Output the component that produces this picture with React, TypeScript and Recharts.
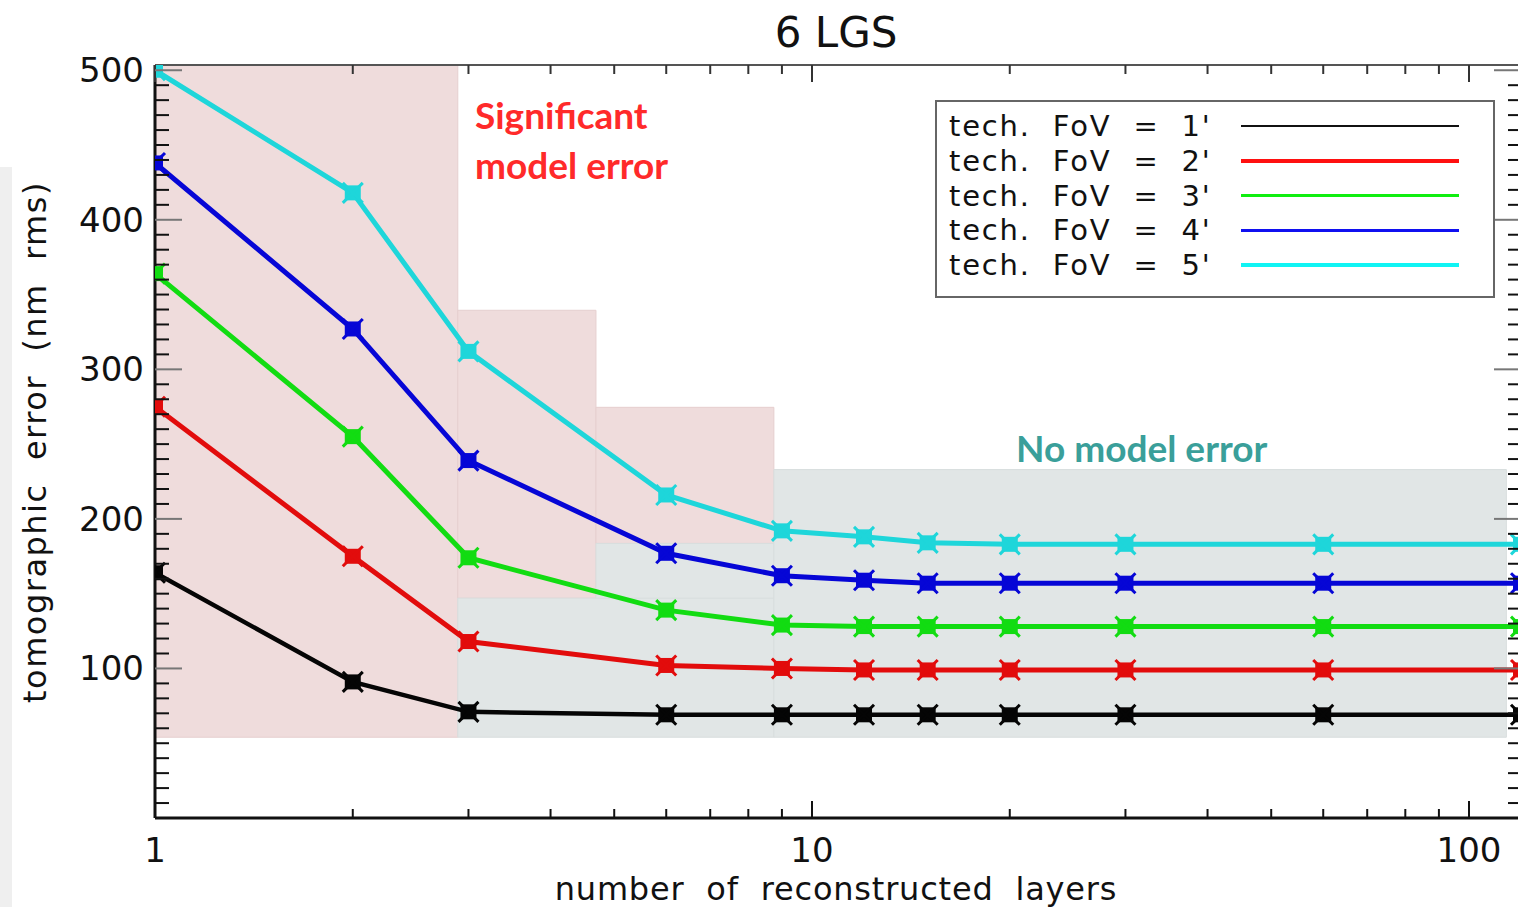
import React from 'react';
import { LineChart, Line, XAxis, YAxis, ReferenceArea } from 'recharts';

// number of reconstructed layers
const layers = [1, 2, 3, 6, 9, 12, 15, 20, 30, 60, 120];

// tomographic error (nm rms) per technical FoV
const fov1 = [164, 91, 71, 69, 69, 69, 69, 69, 69, 69, 69];
const fov2 = [275, 175, 118, 102, 100, 99, 99, 99, 99, 99, 99];
const fov3 = [364, 255, 174, 139, 129, 128, 128, 128, 128, 128, 128];
const fov4 = [438, 327, 239, 177, 162, 159, 157, 157, 157, 157, 157];
const fov5 = [500, 418, 312, 216, 192, 188, 184, 183, 183, 183, 183];

const legendLabels = ["tech.  FoV  =  1'", "tech.  FoV  =  2'", "tech.  FoV  =  3'", "tech.  FoV  =  4'", "tech.  FoV  =  5'"];

const xTicks = [1, 2, 3, 4, 5, 6, 7, 8, 9, 10, 20, 30, 40, 50, 60, 70, 80, 90, 100];
const xLabelTicks = [1, 10, 100];
const yTicks = [
  10, 20, 30, 40, 50, 60, 70, 80, 90, 100, 110, 120, 130, 140, 150, 160, 170, 180, 190, 200,
  210, 220, 230, 240, 250, 260, 270, 280, 290, 300, 310, 320, 330, 340, 350, 360, 370, 380, 390, 400,
  410, 420, 430, 440, 450, 460, 470, 480, 490, 500,
];
const yLabelTicks = [100, 200, 300, 400, 500];

// shaded regimes: [x1, x2, y1, y2]
const modelErrorAreas = [
  [1, 2.89, 54, 503.5],
  [2.89, 4.69, 147, 339.5],
  [4.69, 8.75, 183.6, 274.6],
];
const noModelErrorAreas = [
  [2.89, 8.75, 54, 147],
  [4.69, 8.75, 147, 183.6],
  [8.75, 114, 54, 233],
];

const series = [
  { key: 'fov1', values: fov1, color: '#050505', legend: '#111111', width: 4.5, legendWidth: 2 },
  { key: 'fov2', values: fov2, color: '#e20c0c', legend: '#ff1010', width: 5, legendWidth: 3.5 },
  { key: 'fov3', values: fov3, color: '#12dc12', legend: '#10ee10', width: 5, legendWidth: 2.5 },
  { key: 'fov4', values: fov4, color: '#0606d6', legend: '#1010f0', width: 5, legendWidth: 3.5 },
  { key: 'fov5', values: fov5, color: '#1ed6da', legend: '#10f4f4', width: 5, legendWidth: 3.5 },
];

const data = layers.map((n, i) => {
  const row: Record<string, number> = { layers: n };
  series.forEach((s) => {
    row[s.key] = s.values[i];
  });
  return row;
});

const FONT = '"DejaVu Sans", sans-serif';

// filled square with an X through it
function Marker(props: any) {
  const { cx, cy, color } = props;
  if (cx == null || cy == null) return null;
  return (
    <g>
      <rect x={cx - 8} y={cy - 7.5} width={16} height={15} fill={color} />
      <path
        d={`M${cx - 10} ${cy - 10}L${cx + 10} ${cy + 10}M${cx + 10} ${cy - 10}L${cx - 10} ${cy + 10}`}
        stroke={color}
        strokeWidth={3}
      />
    </g>
  );
}

function BottomTick(props: any) {
  const { x, y, payload } = props;
  const major = xLabelTicks.includes(payload.value);
  return (
    <g>
      <line x1={x} y1={y} x2={x} y2={y - (major ? 17 : 9)} stroke="#111" strokeWidth={2} />
      {major && (
        <text x={x} y={y + 44} textAnchor="middle" fontFamily={FONT} fontSize={34} fill="#111">
          {payload.value}
        </text>
      )}
    </g>
  );
}

function TopTick(props: any) {
  const { x, y, payload } = props;
  const major = xLabelTicks.includes(payload.value);
  return <line x1={x} y1={y} x2={x} y2={y + (major ? 17 : 9)} stroke="#333" strokeWidth={2} />;
}

function LeftTick(props: any) {
  const { x, y, payload } = props;
  const major = yLabelTicks.includes(payload.value);
  return (
    <g>
      <line x1={x} y1={y} x2={x + (major ? 27 : 14)} y2={y} stroke={major ? '#777' : '#111'} strokeWidth={2} />
      {major && (
        <text x={x - 11} y={y + 12} textAnchor="end" fontFamily={FONT} fontSize={34} fill="#111">
          {payload.value}
        </text>
      )}
    </g>
  );
}

function RightTick(props: any) {
  const { x, y, payload } = props;
  const major = yLabelTicks.includes(payload.value);
  return <line x1={x} y1={y} x2={x - (major ? 27 : 13)} y2={y} stroke={major ? '#777' : '#111'} strokeWidth={2} />;
}

export default function App() {
  return (
    <div
      style={{
        position: 'absolute',
        left: 0,
        top: 0,
        width: 1518,
        height: 907,
        overflow: 'hidden',
        background: '#fff',
        fontFamily: FONT,
      }}
    >
      <div style={{ position: 'absolute', left: 0, top: 167, width: 12, height: 740, background: '#efefef' }} />

      <LineChart width={1524} height={907} data={data} margin={{ top: 0, right: 0, bottom: 0, left: 0 }}>
        <XAxis
          xAxisId="bottom"
          dataKey="layers"
          type="number"
          scale="log"
          domain={[1, 120]}
          allowDataOverflow
          ticks={xTicks}
          interval={0}
          height={89}
          tickSize={0}
          tickMargin={0}
          tick={<BottomTick />}
          axisLine={{ stroke: '#111', strokeWidth: 3 }}
          tickLine={false}
        />
        <XAxis
          xAxisId="top"
          orientation="top"
          dataKey="layers"
          type="number"
          scale="log"
          domain={[1, 120]}
          allowDataOverflow
          ticks={xTicks}
          interval={0}
          height={65}
          tickSize={0}
          tickMargin={0}
          tick={<TopTick />}
          axisLine={{ stroke: '#555', strokeWidth: 2 }}
          tickLine={false}
        />
        <YAxis
          yAxisId="left"
          type="number"
          domain={[0, 503.5]}
          allowDataOverflow
          ticks={yTicks}
          interval={0}
          width={155}
          tickSize={0}
          tickMargin={0}
          tick={<LeftTick />}
          axisLine={{ stroke: '#111', strokeWidth: 3 }}
          tickLine={false}
        />
        <YAxis
          yAxisId="right"
          orientation="right"
          type="number"
          domain={[0, 503.5]}
          allowDataOverflow
          ticks={yTicks}
          interval={0}
          width={3}
          tickSize={0}
          tickMargin={0}
          tick={<RightTick />}
          axisLine={false}
          tickLine={false}
        />

        {modelErrorAreas.map(([x1, x2, y1, y2], i) => (
          <ReferenceArea
            key={`m${i}`}
            xAxisId="bottom"
            yAxisId="left"
            x1={x1}
            x2={x2}
            y1={y1}
            y2={y2}
            fill="#efdcdc"
            fillOpacity={1}
            stroke="#e6cfcf"
            strokeWidth={1}
            ifOverflow="hidden"
          />
        ))}
        {noModelErrorAreas.map(([x1, x2, y1, y2], i) => (
          <ReferenceArea
            key={`n${i}`}
            xAxisId="bottom"
            yAxisId="left"
            x1={x1}
            x2={x2}
            y1={y1}
            y2={y2}
            fill="#e1e6e6"
            fillOpacity={1}
            stroke="#d8dede"
            strokeWidth={1}
            ifOverflow="hidden"
          />
        ))}

        {series.map((s) => (
          <Line
            key={s.key}
            xAxisId="bottom"
            yAxisId="left"
            dataKey={s.key}
            type="linear"
            stroke={s.color}
            strokeWidth={s.width}
            dot={(p: any) => <Marker key={`${s.key}-${p.index}`} cx={p.cx} cy={p.cy} color={s.color} />}
            activeDot={false}
            isAnimationActive={false}
          />
        ))}
      </LineChart>

      {/* title and axis titles */}
      <div style={{ position: 'absolute', left: 636, width: 400, top: 8, textAlign: 'center', fontSize: 42, color: '#111' }}>
        6 LGS
      </div>
      <div
        style={{
          position: 'absolute',
          left: 536,
          width: 600,
          top: 872,
          height: 34,
          lineHeight: '34px',
          textAlign: 'center',
          fontSize: 32,
          letterSpacing: 0.8,
          color: '#111',
          whiteSpace: 'pre',
        }}
      >
        number  of  reconstructed  layers
      </div>
      <div
        style={{
          position: 'absolute',
          left: 35,
          top: 442,
          width: 600,
          marginLeft: -300,
          marginTop: -20,
          height: 40,
          lineHeight: '40px',
          textAlign: 'center',
          fontSize: 32,
          letterSpacing: 1.5,
          color: '#111',
          whiteSpace: 'pre',
          transform: 'rotate(-90deg)',
        }}
      >
        tomographic  error  (nm  rms)
      </div>

      {/* regime annotations */}
      <div
        style={{
          position: 'absolute',
          left: 475,
          top: 90,
          fontFamily: 'Lato, sans-serif',
          fontWeight: 700,
          fontSize: 37,
          lineHeight: '50px',
          color: '#ff2a2a',
        }}
      >
        Significant
        <br />
        model error
      </div>
      <div
        style={{
          position: 'absolute',
          left: 1016,
          top: 427,
          fontFamily: 'Lato, sans-serif',
          fontWeight: 700,
          fontSize: 37,
          lineHeight: '42px',
          color: '#3a9f9a',
        }}
      >
        No model error
      </div>

      {/* legend */}
      <div
        style={{
          position: 'absolute',
          left: 935,
          top: 100,
          width: 556,
          height: 187,
          border: '2px solid #666',
          background: '#fff',
          paddingTop: 7,
          boxSizing: 'content-box',
        }}
      >
        {series.map((s, i) => (
          <div key={s.key} style={{ position: 'relative', height: 34.75 }}>
            <span
              style={{
                position: 'absolute',
                left: 12,
                top: 1,
                fontSize: 29,
                letterSpacing: 1.8,
                lineHeight: '33px',
                height: 33,
                color: '#111',
                whiteSpace: 'pre',
              }}
            >
              {legendLabels[i]}
            </span>
            <span
              style={{
                position: 'absolute',
                left: 304,
                width: 218,
                top: 17 - s.legendWidth / 2,
                height: s.legendWidth,
                background: s.legend,
              }}
            />
          </div>
        ))}
      </div>
    </div>
  );
}
